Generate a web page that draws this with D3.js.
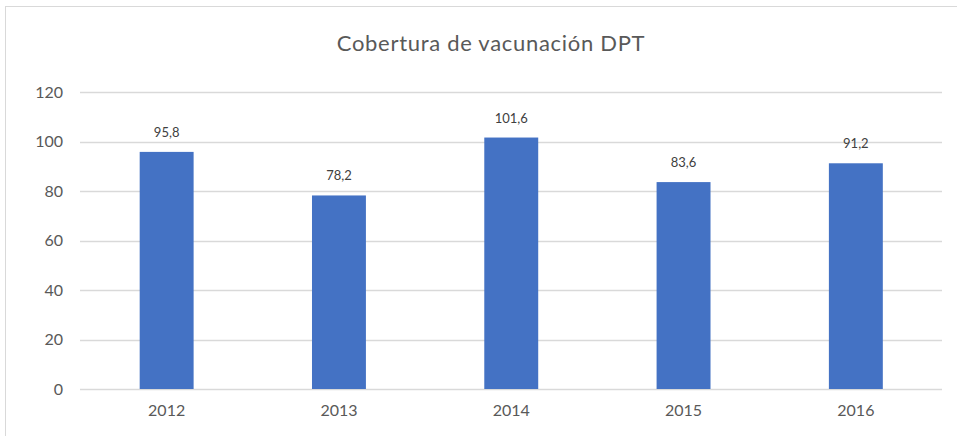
<!DOCTYPE html>
<html>
<head>
<meta charset="utf-8">
<script src="https://cdn.jsdelivr.net/npm/d3@7"></script>
<style>
  body { margin: 0; background: #fff; }
  svg text { font-family: Lato, "Open Sans", sans-serif; }
</style>
</head>
<body>
<svg id="chart" width="957" height="436"></svg>
<script>
const years = ["2012", "2013", "2014", "2015", "2016"]
const coverage = [95.8, 78.2, 101.6, 83.6, 91.2]
const yTicks = [0, 20, 40, 60, 80, 100, 120]

const svg = d3.select("#chart")

// chart area border
svg.append("rect")
    .attr("x", 5.5).attr("y", 6.5)
    .attr("width", 960).attr("height", 440)
    .attr("fill", "none")
    .attr("stroke", "#d9d9d9")

const x = d3.scaleBand()
    .domain(years)
    .range([80.5, 942])
    .paddingInner(0.687)
    .paddingOuter(0.3435)

const y = d3.scaleLinear()
    .domain([0, 120])
    .range([389, 92])

// gridlines
svg.append("g")
    .selectAll("line")
    .data(yTicks)
    .join("line")
    .attr("x1", 80).attr("x2", 942)
    .attr("y1", d => Math.round(y(d)) + 0.5)
    .attr("y2", d => Math.round(y(d)) + 0.5)
    .attr("stroke", "#d9d9d9")
    .attr("stroke-width", 1.3)

// y axis labels
const yAxis = svg.append("g")
    .attr("transform", "translate(63,0)")
    .call(d3.axisLeft(y).tickValues(yTicks).tickSize(0).tickPadding(0))
yAxis.select(".domain").remove()
yAxis.selectAll("text")
    .attr("fill", "#595959")
    .style("font-size", "16px")
    .style("font-family", "Lato, 'Open Sans', sans-serif")

// x axis labels
const xAxis = svg.append("g")
    .attr("transform", "translate(0,389)")
    .call(d3.axisBottom(x).tickSize(0).tickPadding(16))
xAxis.select(".domain").remove()
xAxis.selectAll("text")
    .attr("fill", "#595959")
    .style("font-size", "16px")
    .style("font-family", "Lato, 'Open Sans', sans-serif")

// bars
svg.append("g")
    .selectAll("rect")
    .data(coverage)
    .join("rect")
    .attr("x", (d, i) => x(years[i]))
    .attr("y", d => y(d))
    .attr("width", x.bandwidth())
    .attr("height", d => y(0) - y(d))
    .attr("fill", "#4472c4")

// data labels
svg.append("g")
    .selectAll("text")
    .data(coverage)
    .join("text")
    .attr("x", (d, i) => x(years[i]) + x.bandwidth() / 2)
    .attr("y", d => y(d) - 15)
    .attr("text-anchor", "middle")
    .attr("fill", "#404040")
    .style("font-size", "13px")
    .text(d => d.toFixed(1).replace(".", ","))

// title
svg.append("text")
    .attr("x", 491)
    .attr("y", 51)
    .attr("text-anchor", "middle")
    .attr("fill", "#595959")
    .style("font-size", "22px")
    .style("letter-spacing", "0.7px")
    .text("Cobertura de vacunación DPT")
</script>
</body>
</html>
